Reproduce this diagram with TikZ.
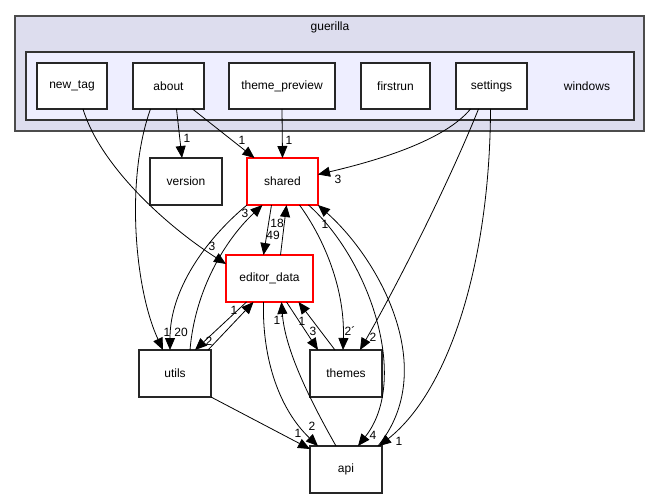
\documentclass[tikz,border=0pt]{standalone}
\usepackage{fontspec}
\setmainfont{Liberation Sans}
\usetikzlibrary{arrows.meta}

\begin{document}
\begin{tikzpicture}[x=1pt, y=-1pt,
  every node/.style = {font=\fontsize{12}{14}\selectfont},
  dirbox/.style = {shape=rectangle, draw=black!85, line width=1.2pt,
    fill=white, minimum width=72pt, minimum height=47pt,
    inner sep=0pt, outer sep=0pt},
  hotbox/.style = {dirbox, draw=red},
  dep/.style = {-{Triangle[length=12pt,width=10pt]}, line width=0.8pt},
  num/.style = {inner sep=0pt}]
  \useasboundingbox (0,0) rectangle (661,500);

  % clusters
  \draw[fill={rgb,255:red,221;green,221;blue,238}, draw=black!70, line width=1.3pt]
    (15,16) rectangle (644,131);
  \node (guerilla) at (330,27) {guerilla};
  \draw[fill={rgb,255:red,238;green,238;blue,255}, draw=black!80, line width=1.1pt]
    (26,52) rectangle (634,120);
  \node (windows) at (587,86) {windows};

  % directories
  \node[dirbox, minimum width=70pt, minimum height=46pt] (new_tag) at (72,86) {new\_tag};
  \node[dirbox, minimum width=71pt, minimum height=46pt] (about) at (168.5,86) {about};
  \node[dirbox, minimum width=106pt, minimum height=46pt] (theme_preview) at (282,86) {theme\_preview};
  \node[dirbox, minimum width=69pt, minimum height=46pt] (firstrun) at (395.5,86) {firstrun};
  \node[dirbox, minimum width=71pt, minimum height=46pt] (settings) at (491.5,86) {settings};
  \node[dirbox] (version) at (186,181.5) {version};
  \node[hotbox, minimum width=71pt] (shared) at (282.5,181.5) {shared};
  \node[hotbox, minimum width=87pt] (editor_data) at (269.5,278.5) {editor\_data};
  \node[dirbox] (utils) at (175,373.5) {utils};
  \node[dirbox] (themes) at (346,373.5) {themes};
  \node[dirbox] (api) at (346,469.5) {api};

  % dependencies
  \draw[dep] ([xshift=11pt]new_tag.south) .. controls (100,165) and (165,225) .. ([yshift=-9pt]editor_data.north west);
  \draw[dep] ([xshift=8pt]about.south) -- ([xshift=-4pt]version.north);
  \draw[dep] ([xshift=24pt]about.south) -- ([xshift=-28pt]shared.north);
  \draw[dep] (theme_preview.south) -- (shared.north);
  \draw[dep] ([xshift=-21pt]settings.south) .. controls (445,140) and (380,160) .. ([yshift=7pt]shared.east);
  \draw[dep] ([xshift=-13pt]settings.south) .. controls (450,180) and (400,280) .. ([xshift=14pt]themes.north);
  \draw[dep] ([xshift=-1pt]settings.south) .. controls (490,260) and (450,390) .. ([xshift=-3pt]api.north east);
  \draw[dep] ([xshift=-18pt]about.south) .. controls (125,180) and (135,290) .. ([xshift=-12pt]utils.north);
  \draw[dep] (shared.south west) .. controls (205,240) and (170,290) .. ([xshift=-5pt]utils.north);
  \draw[dep] ([xshift=15pt]utils.north) .. controls (195,290) and (225,240) .. ([xshift=-20pt]shared.south);
  \draw[dep] ([xshift=-11pt]shared.south) -- ([xshift=-6pt]editor_data.north);
  \draw[dep] ([xshift=11pt]editor_data.north) -- ([xshift=4pt]shared.south);
  \draw[dep] ([xshift=33pt]utils.north) -- ([xshift=-16pt]editor_data.south);
  \draw[dep] ([xshift=-23pt]editor_data.south) -- ([xshift=20pt]utils.north);
  \draw[dep] ([xshift=-6pt]editor_data.south) .. controls (262,360) and (280,410) .. ([xshift=-28pt]api.north);
  \draw[dep] ([xshift=-10pt]api.north) .. controls (310,400) and (285,350) .. ([xshift=12pt]editor_data.south);
  \draw[dep] ([xshift=17pt]editor_data.south) -- ([xshift=-28pt]themes.north);
  \draw[dep] ([xshift=-11pt]themes.north) -- ([xshift=29pt]editor_data.south);
  \draw[dep] ([xshift=17pt]shared.south) .. controls (325,240) and (345,290) .. ([xshift=-3pt]themes.north);
  \draw[dep] ([xshift=26pt]shared.south) .. controls (370,260) and (410,380) .. ([xshift=12pt]api.north);
  \draw[dep] ([xshift=32pt]api.north) .. controls (440,370) and (380,260) .. (shared.south east);
  \draw[dep] (utils.south east) -- ([yshift=-3pt]api.north west);

  % counts
  \node[num] (nNewEd) at (212,246) {3};
  \node[num] (nAbVer) at (187,138) {1};
  \node[num] (nAbSh) at (242,140) {1};
  \node[num] (nTpSh) at (289,140) {1};
  \node[num] (nSetSh) at (338,179) {3};
  \node[num] (nSetTh) at (373,337) {2};
  \node[num] (nSetApi) at (399,441) {1};
  \node[num] (nAbUt) at (167,332) {1};
  \node[num] (nShUt) at (181,332) {20};
  \node[num] (nUtSh) at (245,213) {3};
  \node[num] (nShEd) at (273,235) {49};
  \node[num] (nEdSh) at (277,223) {18};
  \node[num] (nUtEd) at (234,310) {1};
  \node[num] (nEdUt) at (209,341) {2};
  \node[num] (nEdApi) at (312,426) {2};
  \node[num] (nApiEd) at (279,320) {1´};
  \node[num] (nEdTh) at (313,331) {3};
  \node[num] (nThEd) at (302,321) {1};
  \node[num] (nShTh) at (350,331) {2´};
  \node[num] (nShApi) at (373,435) {4};
  \node[num] (nApiSh) at (325,224) {1};
  \node[num] (nUtApi) at (298,433) {1};
\end{tikzpicture}
\end{document}
